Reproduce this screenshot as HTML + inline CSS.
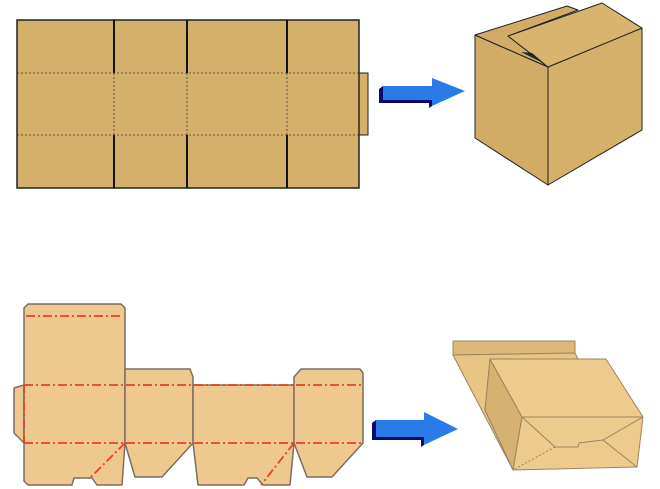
<!DOCTYPE html>
<html><head><meta charset="utf-8"><style>
html,body{margin:0;padding:0;background:#fff;}
svg{display:block;}
</style></head><body>
<svg width="660" height="489" viewBox="0 0 660 489" xmlns="http://www.w3.org/2000/svg">
<rect width="660" height="489" fill="#fff"/>
<g stroke="#222" fill="#d4b06a">
<rect x="359" y="73" width="9" height="62" stroke-width="1"/>
<rect x="17" y="20" width="342" height="168" stroke-width="1.5"/>
</g>
<g stroke="#111" stroke-width="2">
<line x1="114" y1="20" x2="114" y2="73"/><line x1="187" y1="20" x2="187" y2="73"/><line x1="287" y1="20" x2="287" y2="73"/>
<line x1="114" y1="135" x2="114" y2="188"/><line x1="187" y1="135" x2="187" y2="188"/><line x1="287" y1="135" x2="287" y2="188"/>
</g>
<g stroke="#333" stroke-width="0.8" stroke-dasharray="2,2" fill="none">
<line x1="17" y1="73" x2="359" y2="73"/><line x1="17" y1="135" x2="359" y2="135"/>
<line x1="114" y1="73" x2="114" y2="135"/><line x1="187" y1="73" x2="187" y2="135"/><line x1="287" y1="73" x2="287" y2="135"/>
<line x1="359" y1="73" x2="359" y2="135"/>
</g>
<polygon points="383,86 432,86 432,78 465,91 432,106 432,100 383,100" fill="#2a7be8"/>
<polygon points="379,89 383,86 383,100 432,100 432,106 429,108 429,103 379,103" fill="#0a0a70"/>
<g stroke="#222" stroke-width="1" fill="#d2ac66" stroke-linejoin="round">
<polygon points="475,35 548,67 548,185 475,138"/>
<polygon points="548,67 642,28 642,130 548,185" fill="#d5b06a"/>
<polygon points="475,35 567,6 578,10 508,36 548,67"/>
<polygon points="508,36 602,3 642,28 548,67" fill="#d8b46e"/>
</g>
<polygon points="521,52 545,64 532,53" fill="#1a2a2a"/>
<g fill="#edc98f" stroke="#7d6e60" stroke-width="1.5" stroke-linejoin="round">
<polygon points="24,385 14,388 14,433 24,443"/>
<polygon points="28,304 121,304 125,308 125,443 122,485 97,485 92,478 74,478 72,485 28,485 24,481 24,308"/>
<polygon points="125,369 190,369 193,377 193,443 162,477 135,477 125,443"/>
<polygon points="193,385 294,385 294,443 290,485 263,485 257,478 248,478 244,485 198,485 193,443"/>
<polygon points="301,369 360,369 363,373 363,443 332,477 307,477 294,443 294,377"/>
</g>
<g stroke="#e8402a" stroke-width="1.8" stroke-dasharray="9,3,2,3" fill="none">
<line x1="26" y1="316" x2="123" y2="316"/>
<line x1="24" y1="385" x2="363" y2="385"/>
<line x1="24" y1="443" x2="363" y2="443"/>
<line x1="24" y1="385" x2="24" y2="443"/>
<line x1="125" y1="443" x2="90" y2="478"/>
<line x1="294" y1="443" x2="261" y2="485"/>
</g>
<polygon points="376,420 424,420 424,412 458,429 424,445 424,437 376,437" fill="#2a7be8"/>
<polygon points="372,423 376,420 376,437 424,437 424,445 421,447 421,440 372,440" fill="#0a0a70"/>
<g stroke="#9a8460" stroke-width="1" fill="#e8c585" stroke-linejoin="round">
<polygon points="453,341 575,341 575,353 453,355" fill="#dcb978"/>
<polygon points="453,355 575,353 578,359 490,359 485,410 513,470"/>
<polygon points="490,359 522,417 513,470 485,410" fill="#d6b272"/>
<polygon points="490,359 606,359 643,417 522,417" fill="#edcb8c"/>
<polygon points="522,417 643,417 637,467 513,470" fill="#edcb8c"/>
<polyline points="522,417 555,447 578,447 579,443 603,440 643,417" fill="none"/>
<line x1="603" y1="440" x2="637" y2="467"/>
<line x1="555" y1="447" x2="513" y2="470" stroke-dasharray="2,2"/>
</g>
</svg>
</body></html>
